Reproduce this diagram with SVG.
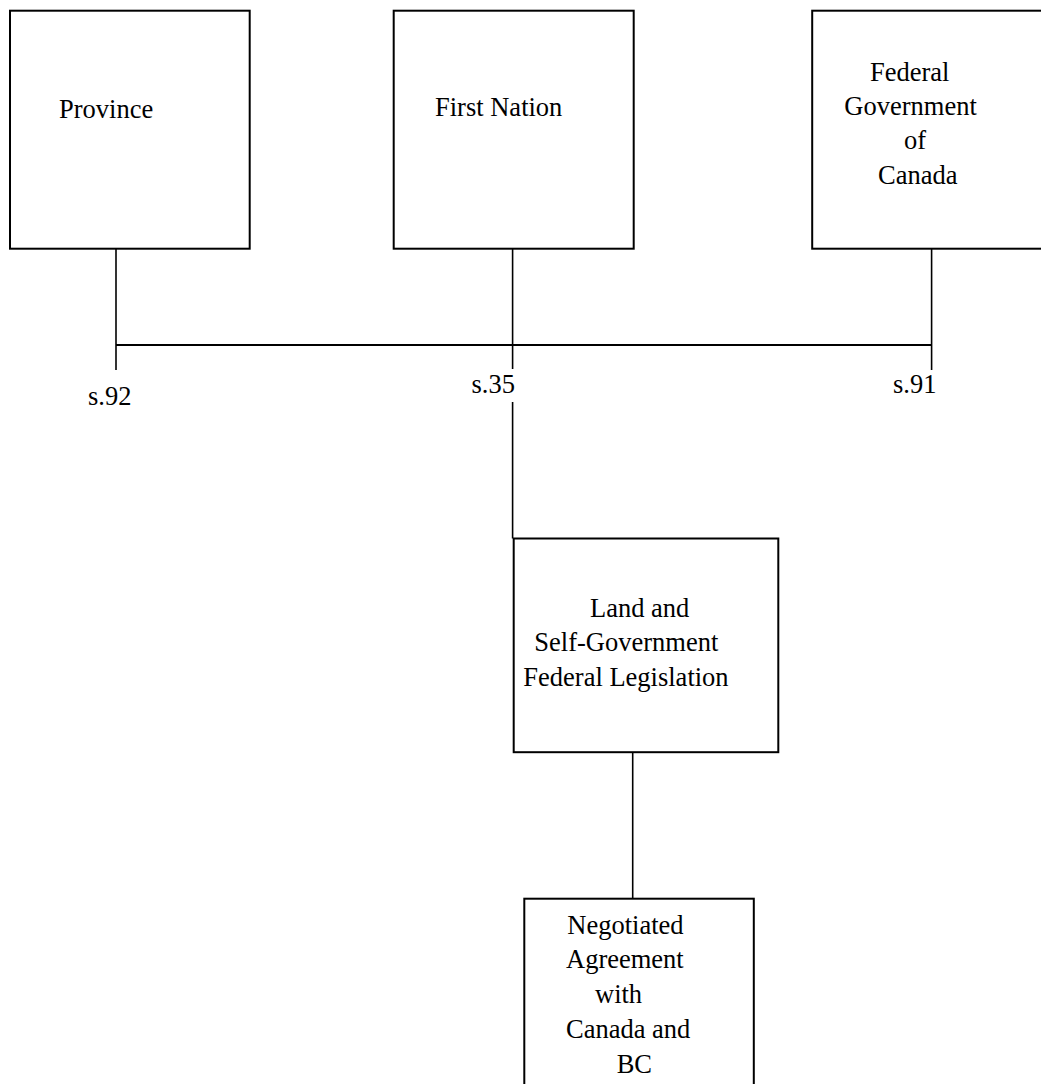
<svg xmlns="http://www.w3.org/2000/svg" width="1041" height="1084" viewBox="0 0 1041 1084">
<style>
.box{fill:#fff;stroke:#000;stroke-width:2}
.t{font-family:"Liberation Serif","Times New Roman",serif;font-size:26.5px;fill:#000}
.c{stroke:#000;stroke-width:1.6;fill:none}
.h{stroke:#000;stroke-width:2.2;fill:none}
</style>
<rect width="1041" height="1084" fill="#fff"/>
<g id="connectors">
<line class="c" x1="116" y1="249" x2="116" y2="370"/>
<line class="c" x1="512.6" y1="249" x2="512.6" y2="369"/>
<line class="c" x1="512.6" y1="402" x2="512.6" y2="538.5"/>
<line class="c" x1="931.6" y1="249" x2="931.6" y2="370"/>
<line class="h" x1="116" y1="345" x2="931.6" y2="345"/>
<line class="c" x1="632.7" y1="752" x2="632.7" y2="898.7"/>
</g>
<g id="labels">
<text class="t" x="88" y="405">s.92</text>
<text class="t" x="471.5" y="393">s.35</text>
<text class="t" x="893" y="393">s.91</text>
</g>
<g id="province">
<rect class="box" x="10" y="10.7" width="239.7" height="238"/>
<text class="t" x="59" y="118">Province</text>
</g>
<g id="first-nation">
<rect class="box" x="393.7" y="10.7" width="240" height="238"/>
<text class="t" x="435" y="116">First Nation</text>
</g>
<g id="federal">
<rect class="box" x="812.2" y="10.7" width="240" height="238"/>
<text class="t" x="870" y="81">Federal</text>
<text class="t" x="844.3" y="115">Government</text>
<text class="t" x="904" y="149">of</text>
<text class="t" x="878" y="184">Canada</text>
</g>
<g id="legislation">
<rect class="box" x="513.7" y="538.5" width="264.6" height="213.7"/>
<text class="t" x="590" y="617">Land and</text>
<text class="t" x="534.3" y="651">Self-Government</text>
<text class="t" x="523.3" y="685.7">Federal Legislation</text>
</g>
<g id="agreement">
<rect class="box" x="524.3" y="898.7" width="229.5" height="200"/>
<text class="t" x="567.3" y="934">Negotiated</text>
<text class="t" x="566" y="968.3">Agreement</text>
<text class="t" x="595" y="1003.3">with</text>
<text class="t" x="566" y="1037.7">Canada and</text>
<text class="t" x="616.7" y="1072.7">BC</text>
</g>
</svg>
